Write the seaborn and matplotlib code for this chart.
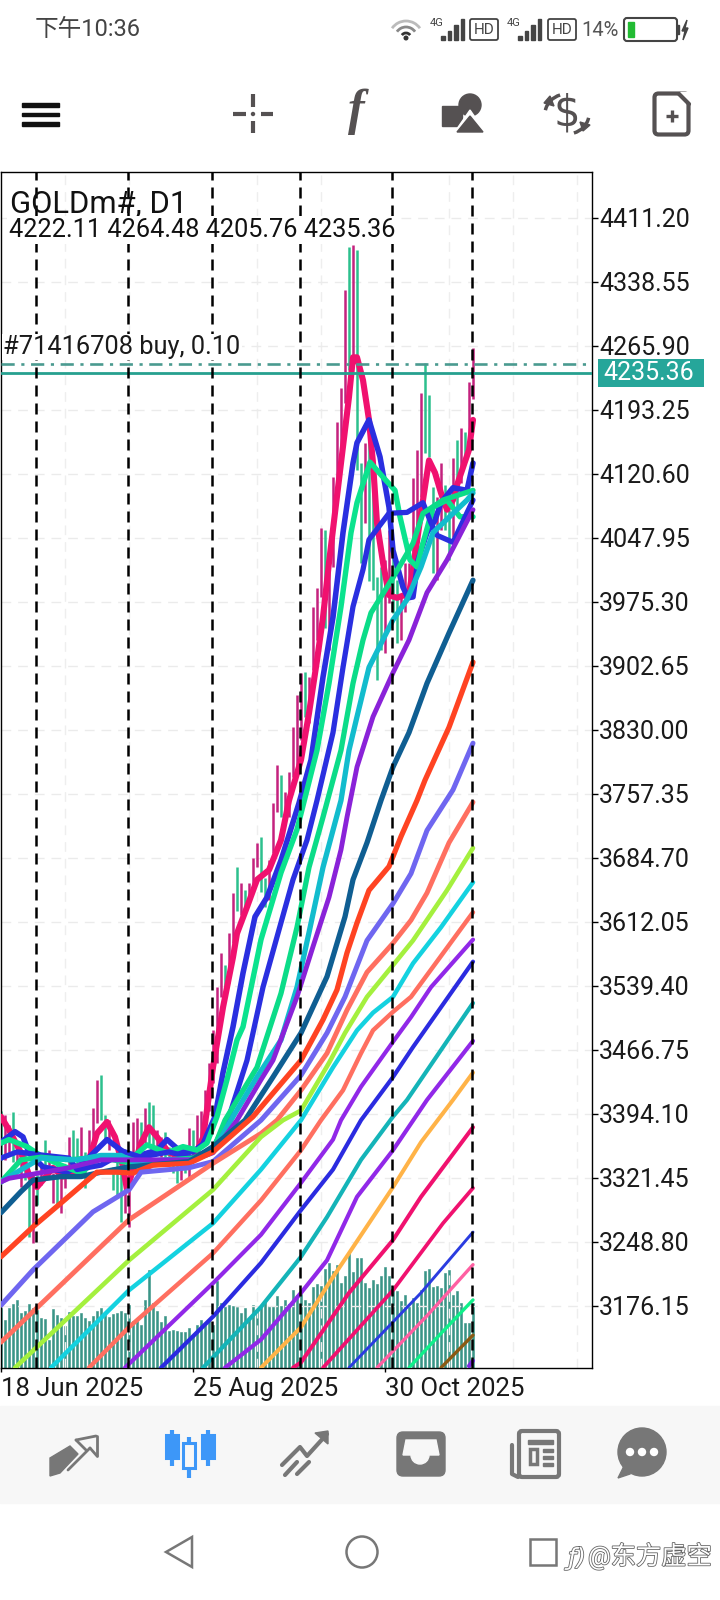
import matplotlib
matplotlib.use("Agg")
import matplotlib.pyplot as plt
import matplotlib.patheffects as pe
from matplotlib.patches import Rectangle, Circle, Polygon, FancyBboxPatch, Arc
import seaborn as sns
import numpy as np

sns.set_style("white")
plt.rcParams['font.family'] = ['Roboto', 'Noto Sans CJK SC', 'DejaVu Sans']

# price scale
price_ticks = [4411.20, 4338.55, 4265.90, 4193.25, 4120.60, 4047.95, 3975.30, 3902.65, 3830.00,
               3757.35, 3684.70, 3612.05, 3539.40, 3466.75, 3394.10, 3321.45, 3248.80, 3176.15]
date_ticks = [0, 48, 96]
date_labels = ["18 Jun 2025", "25 Aug 2025", "30 Oct 2025"]
period_lines = [8.75, 31.75, 52.75, 74.75, 97.75, 117.75]
last_price = 4235.36
order_price = 4245.5

# candles (high-low only, one per day)
candle_high = [3398, 3393, 3381, 3396, 3359, 3353, 3353, 3327, 3327, 3325,
               3336, 3365, 3353, 3327, 3338, 3330, 3334, 3368, 3376, 3367,
               3379, 3351, 3376, 3401, 3433, 3438, 3393, 3387, 3334, 3342,
               3327, 3327, 3316, 3385, 3390, 3385, 3401, 3408, 3404, 3376,
               3368, 3374, 3357, 3345, 3342, 3339, 3350, 3378, 3376, 3393,
               3398, 3421, 3452, 3489, 3538, 3577, 3563, 3599, 3645, 3674,
               3656, 3648, 3656, 3685, 3702, 3708, 3662, 3682, 3747, 3790,
               3779, 3760, 3782, 3833, 3870, 3895, 3896, 3890, 3970, 3991,
               4059, 4057, 4023, 4117, 4180, 4218, 4329, 4378, 4381, 4375,
               4133, 4156, 4171, 4125, 4004, 4015, 4023, 4057, 4038, 4000,
               3981, 4020, 4020, 4116, 4148, 4213, 4247, 4210, 4106, 4094,
               4133, 4108, 4080, 4139, 4159, 4173, 4168, 4225, 4264]
candle_low = [3342, 3342, 3348, 3339, 3336, 3311, 3319, 3254, 3248, 3291,
              3313, 3319, 3331, 3293, 3288, 3282, 3310, 3327, 3327, 3327,
              3338, 3310, 3350, 3350, 3384, 3387, 3365, 3353, 3308, 3299,
              3272, 3282, 3266, 3334, 3353, 3353, 3361, 3361, 3353, 3350,
              3345, 3342, 3338, 3327, 3316, 3319, 3327, 3323, 3350, 3353,
              3357, 3372, 3398, 3429, 3452, 3527, 3523, 3543, 3588, 3625,
              3620, 3625, 3633, 3651, 3674, 3646, 3629, 3637, 3690, 3737,
              3731, 3728, 3731, 3777, 3785, 3819, 3845, 3838, 3898, 3932,
              3981, 3946, 3921, 4015, 4091, 4151, 4201, 4239, 4253, 4125,
              4020, 4065, 3999, 3989, 3887, 3921, 3917, 3974, 3963, 3929,
              3932, 3964, 3981, 4020, 4054, 4094, 4144, 4140, 4008, 4000,
              4057, 4057, 4023, 4049, 4076, 4110, 4133, 4162, 4206]
candle_teal = [0, 3, 6, 7, 9, 11, 14, 18, 19, 21, 25, 26, 28, 29, 30, 35, 37, 38, 41, 42, 43, 44, 46, 48,
               56, 59, 61, 65, 66, 70, 76, 81, 87, 89, 90, 92, 93, 94, 95, 98, 99, 106, 107, 108, 111, 112,
               114, 116]

volume = [60, 48, 60, 64, 68, 55, 57, 64, 60, 58, 50, 49, 28, 59, 53, 50, 42, 56, 52, 52,
          55, 50, 47, 52, 57, 60, 55, 51, 54, 55, 57, 55, 63, 47, 47, 43, 68, 98, 65, 57,
          46, 52, 37, 38, 37, 36, 36, 40, 32, 43, 48, 43, 47, 43, 87, 65, 62, 63, 62, 61,
          55, 60, 50, 63, 58, 62, 67, 62, 62, 72, 62, 68, 64, 78, 73, 74, 68, 65, 81, 84,
          82, 99, 105, 97, 103, 85, 92, 115, 96, 110, 110, 85, 80, 88, 84, 92, 101, 92, 80, 77,
          67, 73, 62, 70, 65, 78, 97, 99, 81, 82, 80, 95, 98, 73, 77, 65, 45, 45, 65]

# moving averages, fastest first
pink_x = [0, 2, 5, 7, 9, 10.5, 13, 15.5, 19, 22, 24, 26.5, 28.5, 30.5, 31.5, 33, 35, 37, 39, 42, 48, 50.5, 53, 55.5,
          58, 59, 61.5, 64, 67, 70, 72, 75, 77, 79, 80.5, 82, 85, 87, 88, 89, 90.5, 92, 93, 94, 95.5, 97, 99, 102,
          103, 105, 107, 108.5, 110, 111.5, 113, 114, 117, 118]
pink_y = [3391, 3376, 3350, 3325, 3311, 3319, 3333, 3323, 3328, 3342, 3372, 3385, 3368, 3334, 3308, 3331, 3361, 3379,
          3368, 3350, 3342, 3367, 3447, 3515, 3572, 3599, 3629, 3660, 3671, 3705, 3750, 3796, 3849, 3909, 3958, 4020,
          4133, 4208, 4253, 4253, 4227, 4182, 4133, 4065, 4020, 3983, 3980, 3985, 4012, 4076, 4136, 4122, 4099, 4080,
          4091, 4108, 4148, 4182]
blue1_x = [0, 3.5, 5.5, 7, 10.5, 16.5, 20.5, 26.5, 30, 33, 39, 41.5, 45, 48, 50.5, 53.5, 55.5, 58, 60.5, 63.5, 66.5, 70, 74.5,
           77.5, 80.5, 83, 85.5, 88, 89, 92, 94.75, 97, 98, 100.5, 101.75, 103, 104.25, 106.5, 108.5, 110, 113, 116.5, 118]
blue1_y = [3362, 3374, 3368, 3350, 3334, 3328, 3338, 3365, 3353, 3345, 3353, 3365, 3351, 3351, 3360, 3391, 3441, 3493, 3554, 3618,
           3640, 3682, 3747, 3796, 3890, 3958, 4054, 4133, 4156, 4182, 4140, 4083, 4034, 3992, 3980, 3981, 4023, 4054,
           4068, 4088, 4105, 4102, 4133]
spring1_x = [0, 2, 6.5, 10.5, 15, 20, 24, 29, 33, 36.5, 41.5, 45.5, 49, 51.5, 54, 56.5, 59, 60.5, 65, 70, 74, 79, 82, 85, 87.5, 89,
             92.25, 95.5, 98.5, 99.75, 102.25, 104, 105.25, 108, 111.5, 114.75, 118]
spring1_y = [3361, 3365, 3357, 3345, 3336, 3327, 3342, 3344, 3345, 3359, 3350, 3357, 3353, 3361, 3391, 3433, 3478, 3493, 3592, 3668, 3717,
             3807, 3883, 3970, 4054, 4088, 4134, 4117, 4102, 4072, 4023, 4015, 4038, 4083, 4091, 4072, 4072]
blue2_x = [0, 4, 11, 17, 19, 25, 31, 35, 42, 48, 53, 57, 61.5, 65.5, 69, 73, 76.5, 79, 83, 85.5, 88, 90.5, 92, 97,
           101.5, 105.5, 107.5, 109, 113, 118]
blue2_y = [3344, 3351, 3347, 3344, 3331, 3336, 3351, 3345, 3351, 3344, 3355, 3391, 3455, 3538, 3595, 3660, 3705, 3750,
           3827, 3901, 3970, 4012, 4046, 4076, 4077, 4088, 4065, 4051, 4043, 4091]
spring2_x = [0, 5, 10, 17, 24, 28, 33, 42, 48, 53, 56, 64, 70, 74, 77, 80.5, 85, 88, 90.5, 92.5, 98, 103, 105.5, 110.5, 118]
spring2_y = [3317, 3342, 3345, 3342, 3345, 3342, 3338, 3342, 3344, 3353, 3387, 3447, 3531, 3606, 3674, 3731, 3807, 3883,
             3932, 3963, 4003, 4042, 4076, 4091, 4102]
cyan1_x = [0, 4, 10, 19, 25, 30, 33, 42, 48, 53, 58, 64, 70, 74, 77, 80.5, 85, 87, 89, 92, 98, 101.5, 105, 108, 116.5, 118]
cyan1_y = [3317, 3328, 3344, 3342, 3347, 3347, 3340, 3342, 3342, 3351, 3391, 3436, 3478, 3538, 3600, 3674, 3750, 3807,
           3845, 3901, 3955, 3978, 4015, 4054, 4091, 4099]
violet1_x = [0, 2, 17, 25, 37, 48, 53, 59, 65, 68, 74, 78, 82, 85, 86.5, 89, 93, 98, 102, 106.5, 111.5, 118]
violet1_y = [3317, 3321, 3333, 3342, 3342, 3342, 3350, 3387, 3433, 3455, 3527, 3584, 3640, 3694, 3731, 3788, 3845, 3895,
             3932, 3986, 4023, 4080]
navy_x = [0, 5, 8, 15, 20, 25, 32, 37, 47, 53, 61, 68, 75, 81.5, 86, 88, 91.5, 95, 98, 102, 106.5, 112, 118]
navy_y = [3282, 3306, 3319, 3323, 3323, 3328, 3334, 3336, 3340, 3357, 3387, 3436, 3486, 3550, 3618, 3660, 3702, 3750,
          3788, 3827, 3883, 3940, 4000]
red_x = [0, 8, 15, 24, 29, 33, 38, 47, 53, 63, 75, 80.5, 84, 86.5, 89, 92, 97, 100, 104, 106, 112, 118]
red_y = [3232, 3266, 3293, 3328, 3328, 3327, 3336, 3338, 3351, 3391, 3455, 3501, 3535, 3577, 3611, 3648, 3675, 3709,
         3750, 3773, 3833, 3907]
slate_x = [0, 8, 23, 32, 35, 47, 53, 65, 75, 81.5, 86, 91.5, 98, 102.5, 106.5, 113, 118]
slate_y = [3177, 3217, 3283, 3308, 3328, 3333, 3340, 3387, 3438, 3486, 3527, 3591, 3633, 3667, 3716, 3762, 3815]
salmon1_x = [0, 32, 53, 65, 69, 75, 81.5, 86.5, 91.5, 98, 102.5, 106.5, 112, 118]
salmon1_y = [3135, 3274, 3338, 3372, 3387, 3421, 3463, 3512, 3555, 3588, 3614, 3645, 3702, 3748]
lime_x = [3.5, 32, 53, 65, 70.5, 75, 82, 86, 91.5, 98, 103, 111.5, 118]
lime_y = [3106, 3228, 3308, 3368, 3387, 3398, 3452, 3486, 3527, 3563, 3591, 3648, 3696]
cyan2_x = [12.5, 32, 53, 65, 75, 83, 89, 93, 98, 103, 110, 118]
cyan2_y = [3106, 3194, 3270, 3331, 3387, 3447, 3489, 3509, 3527, 3565, 3606, 3657]
salmon2_x = [22, 32, 53, 65, 75, 80, 85.5, 90, 93, 98, 102.5, 108, 118]
salmon2_y = [3106, 3152, 3236, 3296, 3353, 3387, 3421, 3463, 3489, 3510, 3527, 3561, 3623]
violet2_x = [31, 53, 65, 75, 83, 85, 90, 98, 102.5, 107.5, 118]
violet2_y = [3106, 3202, 3257, 3316, 3365, 3387, 3425, 3476, 3504, 3538, 3592]
blue3_x = [40, 53, 65, 75, 83, 90, 98, 103, 118]
blue3_y = [3106, 3164, 3225, 3285, 3331, 3387, 3436, 3470, 3567]
teal_x = [50.5, 65, 75, 81.5, 90, 98, 101.5, 118]
teal_y = [3106, 3175, 3232, 3277, 3342, 3391, 3410, 3520]
violet3_x = [56, 65, 75, 81.5, 89, 98, 106.5, 118]
violet3_y = [3106, 3138, 3191, 3228, 3300, 3353, 3410, 3477]
orange_x = [65, 75, 83, 87, 98, 105, 113, 118]
orange_y = [3106, 3152, 3209, 3236, 3311, 3362, 3410, 3441]
rose1_x = [73, 75, 87, 98, 105, 118]
rose1_y = [3106, 3112, 3191, 3251, 3300, 3379]
rose2_x = [80.5, 98, 110.5, 118]
rose2_y = [3106, 3194, 3270, 3310]
blue4_x = [87, 98, 105, 118]
blue4_y = [3106, 3158, 3191, 3260]
hotpink_x = [94, 106.5, 118]
hotpink_y = [3106, 3165, 3223]
spring3_x = [102, 110, 118]
spring3_y = [3106, 3145, 3183]
brown_x = [110, 118]
brown_y = [3106, 3143]
stub_x = [117, 118]
stub_y = [3108, 3114]

ma_lines = [
    (pink_x, pink_y, "#f0116f", 4.4),
    (blue1_x, blue1_y, "#2a2fe0", 4.0),
    (spring1_x, spring1_y, "#0be38e", 3.9),
    (blue2_x, blue2_y, "#2a2fe0", 3.8),
    (spring2_x, spring2_y, "#0bdc88", 3.8),
    (cyan1_x, cyan1_y, "#12bccd", 3.8),
    (violet1_x, violet1_y, "#8a22d8", 3.5),
    (navy_x, navy_y, "#0f5e92", 3.8),
    (red_x, red_y, "#ff4322", 3.8),
    (slate_x, slate_y, "#6f66f0", 3.6),
    (salmon1_x, salmon1_y, "#ff6f60", 3.5),
    (lime_x, lime_y, "#a4f03e", 3.3),
    (cyan2_x, cyan2_y, "#14d2e0", 3.2),
    (salmon2_x, salmon2_y, "#ff6f60", 3.2),
    (violet2_x, violet2_y, "#9128e8", 3.0),
    (blue3_x, blue3_y, "#2b2be0", 3.0),
    (teal_x, teal_y, "#14b4b8", 3.0),
    (violet3_x, violet3_y, "#9128e8", 3.0),
    (orange_x, orange_y, "#ffb347", 2.9),
    (rose1_x, rose1_y, "#f0116f", 2.9),
    (rose2_x, rose2_y, "#f0116f", 2.7),
    (blue4_x, blue4_y, "#2a3ce0", 2.1),
    (hotpink_x, hotpink_y, "#ff5fa2", 2.4),
    (spring3_x, spring3_y, "#0ff08a", 2.4),
    (brown_x, brown_y, "#8b5a14", 2.4),
    (stub_x, stub_y, "#7b2be2", 3.0),
]

W, H = 720, 1600
fig = plt.figure(figsize=(W / 100, H / 100), dpi=100, facecolor="white")

# chart area
left, right, top, bottom = 1, 592, 172, 1368
ax = fig.add_axes([left / W, 1 - bottom / H, (right - left) / W, (bottom - top) / H])
ax_vol = ax.twinx()
ax.set_zorder(ax_vol.get_zorder() + 1)
ax.patch.set_visible(False)

days = np.arange(len(volume))
sns.barplot(x=days, y=volume, native_scale=True, color="#3a9587", saturation=1, width=0.62,
            errorbar=None, edgecolor="#3a9587", linewidth=0.4, ax=ax_vol)
ax_vol.set_ylim(0, bottom - top)
ax_vol.set_ylabel("")
ax_vol.set_xlabel("")
ax_vol.yaxis.set_visible(False)
for s in ax_vol.spines.values():
    s.set_visible(False)

# grid
ax.set_yticks(price_ticks)
ax.set_xticks(np.arange(0, 148, 16), minor=True)
ax.grid(True, axis="y", color="#ebebeb", lw=1, ls=(0, (7, 5)), zorder=0)
ax.grid(True, axis="x", which="minor", color="#eeeeee", lw=1, ls=(0, (7, 5)), zorder=0)

# candles
teal_set = set(candle_teal)
colors = ["#2cc08d" if i in teal_set else "#c4227e" for i in range(len(candle_high))]
ax.vlines(days, candle_low, candle_high, colors=colors, lw=1.8, zorder=1)

for xs, ys, c, lw in ma_lines:
    sns.lineplot(x=xs, y=ys, sort=False, estimator=None, errorbar=None, color=c, lw=lw,
                 legend=False, ax=ax, zorder=3)

ax.axhline(last_price, color="#26a08f", lw=2.0, zorder=4)
ax.axhline(order_price, color="#4a9a90", lw=1.9, ls=(0, (5, 2.5, 1.2, 2.5)), zorder=4)
for p in period_lines:
    ax.axvline(p, color="black", lw=1.8, ls=(0, (4.4, 2.8)), zorder=5)

ax.set_xlim(0, (right - left) / 4)
ax.set_ylim(3105.7, 4463.4)
ax.yaxis.tick_right()
ax.set_yticklabels(["%.2f" % p for p in price_ticks])
ax.set_xticks(date_ticks)
ax.set_xticklabels(date_labels, ha="left")
ax.tick_params(axis="y", which="major", direction="out", length=4, width=1, color="black",
               labelsize=18, pad=1, labelcolor="#1a1a1a", right=True, left=False)
ax.tick_params(axis="x", which="major", direction="out", length=3, width=1, color="black",
               labelsize=18.5, pad=3.5, labelcolor="#1a1a1a", bottom=True)
ax.tick_params(axis="x", which="minor", length=0)
ax.set_xlabel("")
ax.set_ylabel("")
for s in ax.spines.values():
    s.set_visible(True)
    s.set_color("black")
    s.set_linewidth(1)

# screen chrome, drawn in pixels of the screenshot
ui = fig.add_axes([0, 0, 1, 1], zorder=10)
ui.set_xlim(0, W)
ui.set_ylim(H, 0)
ui.axis("off")
ui.patch.set_visible(False)

DARK = "#555152"
GRAY = "#777777"
BLUE = "#3d97f8"

# labels on the chart
ui.text(10, 204, "GOLDm#, D1", fontsize=22.3, color="#111111", va="center")
ui.text(9, 230, "4222.11 4264.48 4205.76 4235.36", fontsize=18.2, color="#111111", va="center",
        bbox=dict(facecolor="white", edgecolor="none", pad=1.5))
ui.text(3, 347, "#71416708 buy, 0.10", fontsize=18.3, color="#1a1a1a", va="center",
        bbox=dict(facecolor="white", edgecolor="none", pad=1))
ui.add_patch(Rectangle((598, 359), 106, 28, facecolor="#26a69a", edgecolor="none"))
ui.text(603, 373, "4235.36", fontsize=18, color="white", va="center")

# status bar
ui.text(35, 29, "下午10:36", fontsize=17, color="#444444", va="center")
for r, c in zip([5, 11, 17], ["#333333", "#888888", "#bbbbbb"]):
    ui.add_patch(Arc((406, 38), 2 * r, 2 * r, theta1=215, theta2=325, color=c, lw=2))
ui.add_patch(Circle((406, 38), 1.8, color="#333333"))
for x0 in [441, 518]:
    ui.text(x0 - 4, 23, "4G", fontsize=8, color="#444444", ha="center", va="center")
    for k, h in enumerate([4, 9, 15, 21]):
        ui.add_patch(Rectangle((x0 + k * 6.5, 40 - h), 3.5, h, color="#444444"))
for x0 in [470, 548]:
    ui.add_patch(FancyBboxPatch((x0 + 2, 21), 24, 17, boxstyle="round,pad=2", fc="none", ec="#444444", lw=1.3))
    ui.text(x0 + 14, 29.5, "HD", fontsize=11, color="#444444", ha="center", va="center")
ui.text(581, 30, "14%", fontsize=14.5, color="#555555", va="center")
ui.add_patch(FancyBboxPatch((627, 21), 47, 17, boxstyle="round,pad=3", fc="none", ec="#444444", lw=1.5))
ui.add_patch(Rectangle((628, 22), 6, 15, color="#22bb33"))
ui.add_patch(Rectangle((677, 25), 2, 9, color="#444444"))
ui.add_patch(Polygon([(687, 20), (682, 31), (685, 31), (683, 40), (688, 28), (685, 28)], color="#444444"))

# toolbar
for y0 in [103, 112.5, 122]:
    ui.add_patch(Rectangle((22, y0), 36.5, 3.8, color="#111111"))
ui.plot([233, 245.5], [114, 114], color=DARK, lw=3, solid_capstyle="butt")
ui.plot([261, 273], [114, 114], color=DARK, lw=3, solid_capstyle="butt")
ui.plot([253, 253], [94, 107], color=DARK, lw=3, solid_capstyle="butt")
ui.plot([253, 253], [121, 133], color=DARK, lw=3, solid_capstyle="butt")
ui.add_patch(Circle((253, 114), 1.5, color=DARK))
ui.text(356, 112, "f", fontsize=36, color=DARK, family="Liberation Serif", style="italic", weight="bold", ha="center", va="center")
ui.add_patch(Rectangle((442, 106), 20, 20, color=DARK))
ui.add_patch(Circle((470, 105), 11, color=DARK))
ui.add_patch(Polygon([(470, 110), (452, 136), (488, 136)], color="white"))
ui.add_patch(Polygon([(470, 116), (457, 132), (483, 132)], color=DARK))
ui.text(567, 114, "$", fontsize=30, color=DARK, family="DejaVu Sans", ha="center", va="center")
ui.add_patch(Arc((567, 114), 44, 40, theta1=190, theta2=250, color=DARK, lw=2.5))
ui.add_patch(Arc((567, 114), 44, 40, theta1=10, theta2=70, color=DARK, lw=2.5))
ui.add_patch(Polygon([(544, 103), (550, 96), (554, 106)], color=DARK))
ui.add_patch(Polygon([(590, 125), (583, 131), (580, 122)], color=DARK))
ui.add_patch(FancyBboxPatch((656, 95), 31, 38, boxstyle="round,pad=1.5,rounding_size=4", fc="white", ec=DARK, lw=3))
ui.add_patch(Polygon([(680, 92), (691, 92), (691, 103)], color="white"))
ui.plot([679, 689], [94, 104], color=DARK, lw=3)
ui.plot([666, 678], [116, 116], color=DARK, lw=2.4, solid_capstyle="butt")
ui.plot([672, 672], [110, 122], color=DARK, lw=2.4, solid_capstyle="butt")

# bottom tab bar
ui.add_patch(Rectangle((0, 1406), W, 97, color="#f7f7f7"))
ui.add_patch(Polygon([(50, 1476), (50, 1458), (70, 1446), (78, 1454), (60, 1473)], color=GRAY))
ui.plot([68, 90], [1470, 1448], color=GRAY, lw=2)
ui.plot([76, 96], [1440, 1436], color=GRAY, lw=2)
ui.plot([97, 97], [1436, 1456], color=GRAY, lw=2)
ui.plot([76, 86], [1440, 1450], color=GRAY, lw=2)
ui.plot([90, 97], [1448, 1456], color=GRAY, lw=2)
for x0, hollow, ys in [(172, False, (1430, 1435, 1458, 1466)), (189, True, (1437, 1443, 1468, 1478)), (208, False, (1430, 1435, 1458, 1466))]:
    ui.plot([x0, x0], [ys[0], ys[3]], color=BLUE, lw=3, solid_capstyle="butt")
    ui.add_patch(Rectangle((x0 - 6, ys[1]), 12, ys[2] - ys[1], fc="#f7f7f7" if hollow else BLUE, ec=BLUE, lw=2.2, zorder=3))
ui.plot([282, 300, 307, 327], [1465, 1447, 1456, 1434], color=GRAY, lw=3)
ui.add_patch(Polygon([(315, 1433), (328, 1431), (328, 1444)], color=GRAY))
ui.plot([285, 297], [1475, 1462], color=GRAY, lw=3)
ui.plot([297, 309], [1474, 1462], color=GRAY, lw=3)
ui.add_patch(FancyBboxPatch((399, 1434), 44, 40, boxstyle="round,pad=2,rounding_size=6", color=GRAY))
ui.add_patch(Polygon([(406, 1440), (436, 1440), (439, 1455), (403, 1455)], color="#f7f7f7"))
ui.add_patch(Circle((420, 1455), 9, color="#f7f7f7"))
ui.add_patch(FancyBboxPatch((520, 1432), 38, 44, boxstyle="round,pad=1,rounding_size=3", fc="#f7f7f7", ec=GRAY, lw=3))
ui.plot([512, 512, 518], [1445, 1474, 1477], color=GRAY, lw=3)
ui.add_patch(Rectangle((528, 1440), 25, 3.5, color=GRAY))
ui.add_patch(Rectangle((530, 1449), 7, 15, fc="none", ec=GRAY, lw=2.5))
for y0 in [1449, 1456, 1463]:
    ui.add_patch(Rectangle((543, y0), 10, 3, color=GRAY))
ui.add_patch(Circle((642, 1452), 24, color=GRAY))
ui.add_patch(Polygon([(618, 1478), (630, 1474), (628, 1458)], color=GRAY))
for x0 in [630, 642, 654]:
    ui.add_patch(Circle((x0, 1452), 3.5, color="white"))

# navigation bar
ui.add_patch(Polygon([(192, 1537), (192, 1567), (166, 1552)], fc="none", ec=GRAY, lw=1.8))
ui.add_patch(Circle((362, 1552), 15.5, fc="none", ec=GRAY, lw=1.8))
ui.add_patch(Rectangle((530, 1539), 26, 26, fc="none", ec=GRAY, lw=1.8))
stroke = [pe.withStroke(linewidth=1.2, foreground="#666666")]
ui.text(588, 1556, "@东方虚空", fontsize=18.2, color="white", va="center", path_effects=stroke)
ui.text(577, 1558, "ƒ)", fontsize=17, color="white", family="DejaVu Sans", style="italic", ha="center", va="center", path_effects=stroke)

fig.savefig("out.png", dpi=100)
